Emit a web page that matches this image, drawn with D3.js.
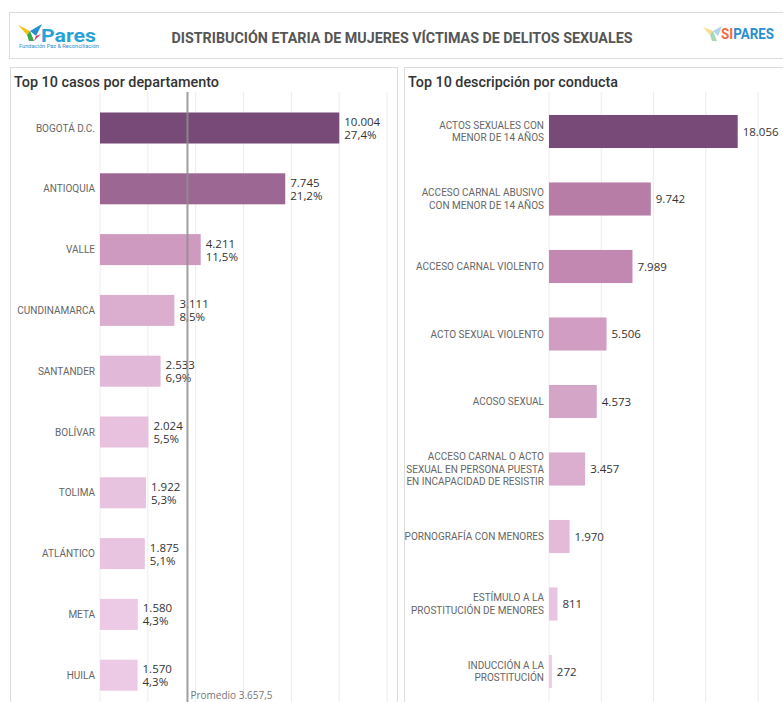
<!DOCTYPE html>
<html>
<head>
<meta charset="utf-8">
<script src="https://cdn.jsdelivr.net/npm/d3@7"></script>
<style>
  body { margin: 0; background: #fff; }
  svg { display: block; font-family: Roboto, "Noto Sans", sans-serif; }
</style>
</head>
<body>
<div id="chart"></div>
<script>
// ===== Data =====
let departamentos = ["BOGOTÁ D.C.", "ANTIOQUIA", "VALLE", "CUNDINAMARCA", "SANTANDER",
                     "BOLÍVAR", "TOLIMA", "ATLÁNTICO", "META", "HUILA"];
let casosDepto = [10004, 7745, 4211, 3111, 2533, 2024, 1922, 1875, 1580, 1570];
let ticksDepto = [0, 2000, 4000, 6000, 8000, 10000, 12000];

let conductas = [
  ["ACTOS SEXUALES CON", "MENOR DE 14 AÑOS"],
  ["ACCESO CARNAL ABUSIVO", "CON MENOR DE 14 AÑOS"],
  ["ACCESO CARNAL VIOLENTO"],
  ["ACTO SEXUAL VIOLENTO"],
  ["ACOSO SEXUAL"],
  ["ACCESO CARNAL O ACTO", "SEXUAL EN PERSONA PUESTA", "EN INCAPACIDAD DE RESISTIR"],
  ["PORNOGRAFÍA CON MENORES"],
  ["ESTÍMULO A LA", "PROSTITUCIÓN DE MENORES"],
  ["INDUCCIÓN A LA", "PROSTITUCIÓN"]
];
let casosConducta = [18056, 9742, 7989, 5506, 4573, 3457, 1970, 811, 272];
let ticksConducta = [0, 5000, 10000, 15000, 20000];

let es = d3.formatLocale({decimal: ",", thousands: ".", grouping: [3], currency: ["$", ""]});
let fmtInt = es.format(",.0f"),
    fmtPct = es.format(".1%"),
    fmtAvg = es.format(",.1f");

let W = 783, H = 702;

let svg = d3.select("#chart").append("svg")
    .attr("width", W)
    .attr("height", H);

// ===== Header =====
let header = svg.append("g");
header.append("rect")
    .attr("x", 9.5).attr("y", 12.5).attr("width", 790).attr("height", 46)
    .attr("fill", "#fff").attr("stroke", "#dcdcdc");

header.append("text")
    .attr("x", 402).attr("y", 43)
    .attr("text-anchor", "middle")
    .attr("font-size", 14).attr("font-weight", 700)
    .attr("fill", "#555")
    .attr("textLength", 461).attr("lengthAdjust", "spacingAndGlyphs")
    .text("DISTRIBUCIÓN ETARIA DE MUJERES VÍCTIMAS DE DELITOS SEXUALES");

// Pares logo
let logo = header.append("g");
logo.append("path").attr("d", "M18,25 L30,31 L27,35 Z").attr("fill", "#f4c21c");
logo.append("path").attr("d", "M27,35 L30,31 L34,41 L29,41 Z").attr("fill", "#3aa84a");
logo.append("path").attr("d", "M30,31 L42,24 L36,36 Z").attr("fill", "#2a8fd0");
logo.append("path").attr("d", "M34,41 L36,36 L41,34 Z").attr("fill", "#d6336c");
logo.append("text")
    .attr("x", 41).attr("y", 42)
    .attr("font-size", 19).attr("font-weight", 700)
    .attr("fill", "#27a3d6")
    .attr("textLength", 55).attr("lengthAdjust", "spacingAndGlyphs")
    .text("Pares");
logo.append("text")
    .attr("x", 19).attr("y", 48)
    .attr("font-size", 4.5).attr("fill", "#2a8fd0")
    .attr("textLength", 80).attr("lengthAdjust", "spacingAndGlyphs")
    .text("Fundación Paz & Reconciliación");

// SIPARES logo
let sip = header.append("g");
sip.append("path").attr("d", "M703,27 L713,31 L710,35 Z").attr("fill", "#f6d36a").attr("opacity", 0.8);
sip.append("path").attr("d", "M710,35 L713,31 L717,41 L712,41 Z").attr("fill", "#8fd0a0").attr("opacity", 0.8);
sip.append("path").attr("d", "M713,31 L722,26 L718,36 Z").attr("fill", "#9cc8ea").attr("opacity", 0.8);
sip.append("text")
    .attr("x", 721).attr("y", 39)
    .attr("font-size", 15).attr("font-weight", 700)
    .attr("textLength", 53).attr("lengthAdjust", "spacingAndGlyphs")
    .call(t => {
      t.append("tspan").attr("fill", "#f26a3b").text("SI");
      t.append("tspan").attr("fill", "#2b8fcf").text("PARES");
    });

// ===== Panel helper =====
function panel(x0, x1, title, titleLen) {
  let p = svg.append("g");
  p.append("rect")
      .attr("x", x0 + 0.5).attr("y", 67.5)
      .attr("width", x1 - x0).attr("height", 700)
      .attr("fill", "#fff").attr("stroke", "#dcdcdc");
  p.append("text")
      .attr("x", x0 + 4).attr("y", 87)
      .attr("font-size", 15).attr("font-weight", 500)
      .attr("fill", "#333")
      .attr("textLength", titleLen).attr("lengthAdjust", "spacingAndGlyphs")
      .text(title);
  return p;
}

// ===== Left: departamentos =====
let total = d3.sum(casosDepto),
    promedio = d3.mean(casosDepto);

let gL = panel(10, 397, "Top 10 casos por departamento", 205);

let xL = d3.scaleLinear().domain([0, 12000]).range([100, 387]),
    yL = d3.scaleBand().domain(departamentos).range([97.6, 705.6])
          .paddingInner(0.49).paddingOuter(0.245);

let colorL = d3.scaleLinear()
    .domain([d3.min(casosDepto), d3.min(casosDepto) + 0.45 * (d3.max(casosDepto) - d3.min(casosDepto)), d3.max(casosDepto)])
    .range(["#ecc9e4", "#c286b0", "#774a77"]);

gL.selectAll(".grid")
  .data(ticksDepto)
  .enter().append("line")
    .attr("class", "grid")
    .attr("x1", d => xL(d)).attr("x2", d => xL(d))
    .attr("y1", 92).attr("y2", H)
    .attr("stroke", "#ececec");

gL.selectAll(".bar")
  .data(casosDepto)
  .enter().append("rect")
    .attr("class", "bar")
    .attr("x", xL(0))
    .attr("y", (d, i) => yL(departamentos[i]))
    .attr("width", d => xL(d) - xL(0))
    .attr("height", yL.bandwidth())
    .attr("fill", d => colorL(d));

gL.selectAll(".cat")
  .data(departamentos)
  .enter().append("text")
    .attr("class", "cat")
    .attr("x", 95)
    .attr("y", d => yL(d) + yL.bandwidth() / 2)
    .attr("dy", "0.35em")
    .attr("text-anchor", "end")
    .attr("font-size", 10).attr("fill", "#666")
    .text(d => d);

let valL = gL.selectAll(".val")
  .data(casosDepto)
  .enter().append("text")
    .attr("class", "val")
    .attr("font-family", "'Open Sans', sans-serif")
    .attr("font-size", 11.5).attr("fill", "#333");
valL.append("tspan")
    .attr("x", d => xL(d) + 5)
    .attr("y", (d, i) => yL(departamentos[i]) + yL.bandwidth() / 2 - 2)
    .text(d => fmtInt(d));
valL.append("tspan")
    .attr("x", d => xL(d) + 5)
    .attr("y", (d, i) => yL(departamentos[i]) + yL.bandwidth() / 2 + 11)
    .text(d => fmtPct(d / total));

// average reference line
gL.append("line")
    .attr("x1", xL(promedio)).attr("x2", xL(promedio))
    .attr("y1", 92).attr("y2", H)
    .attr("stroke", "#8f8f8f").attr("stroke-width", 2).attr("opacity", 0.85);
gL.append("text")
    .attr("x", xL(promedio) + 3).attr("y", 699)
    .attr("font-family", "'Open Sans', sans-serif")
    .attr("font-size", 10).attr("fill", "#777")
    .text("Promedio " + fmtAvg(promedio));

// ===== Right: conductas =====
let gR = panel(404, 800, "Top 10 descripción por conducta", 210);

let keysR = conductas.map((d, i) => i);
let xR = d3.scaleLinear().domain([0, 20000]).range([549, 758]),
    yR = d3.scaleBand().domain(keysR).range([97.75, 705.25])
          .paddingInner(0.51).paddingOuter(0.255);

let colorR = d3.scaleLinear()
    .domain([d3.min(casosConducta), d3.min(casosConducta) + 0.45 * (d3.max(casosConducta) - d3.min(casosConducta)), d3.max(casosConducta)])
    .range(["#ecc9e4", "#c286b0", "#774a77"]);

gR.selectAll(".grid")
  .data(ticksConducta)
  .enter().append("line")
    .attr("class", "grid")
    .attr("x1", d => xR(d)).attr("x2", d => xR(d))
    .attr("y1", 92).attr("y2", H)
    .attr("stroke", "#ececec");

gR.selectAll(".bar")
  .data(casosConducta)
  .enter().append("rect")
    .attr("class", "bar")
    .attr("x", xR(0))
    .attr("y", (d, i) => yR(i))
    .attr("width", d => Math.max(1.5, xR(d) - xR(0)))
    .attr("height", yR.bandwidth())
    .attr("fill", d => colorR(d));

let catR = gR.selectAll(".cat")
  .data(conductas)
  .enter().append("text")
    .attr("class", "cat")
    .attr("text-anchor", "end")
    .attr("font-size", 10).attr("fill", "#666");
catR.each(function(lines, i) {
  let cy = yR(i) + yR.bandwidth() / 2,
      lh = 12.5,
      top = cy - (lines.length - 1) * lh / 2;
  d3.select(this).selectAll("tspan")
    .data(lines)
    .enter().append("tspan")
      .attr("x", 544)
      .attr("y", (l, j) => top + j * lh)
      .attr("dy", "0.35em")
      .text(l => l);
});

gR.selectAll(".val")
  .data(casosConducta)
  .enter().append("text")
    .attr("class", "val")
    .attr("x", d => Math.max(xR(d), xR(0) + 1.5) + 5)
    .attr("y", (d, i) => yR(i) + yR.bandwidth() / 2)
    .attr("dy", "0.35em")
    .attr("font-family", "'Open Sans', sans-serif")
    .attr("font-size", 11.5).attr("fill", "#333")
    .text(d => fmtInt(d));
</script>
</body>
</html>
